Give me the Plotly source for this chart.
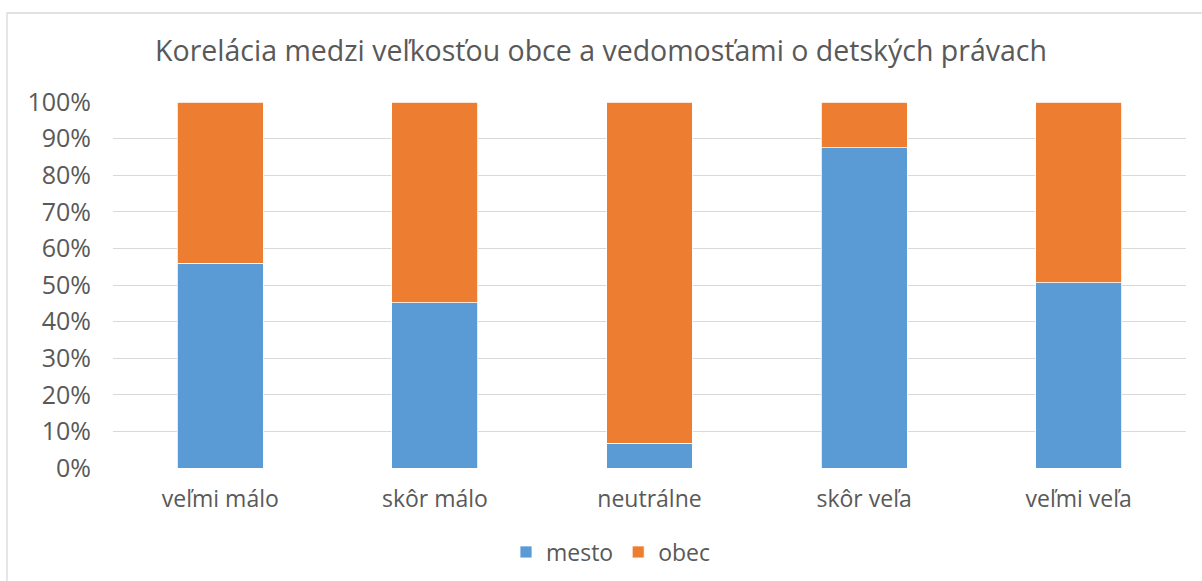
import plotly.graph_objects as go

categories = ["veľmi málo", "skôr málo", "neutrálne", "skôr veľa", "veľmi veľa"]
mesto = [56, 45.2, 6.7, 87.5, 50.6]
obec = [44, 54.8, 93.3, 12.5, 49.4]
tick_vals = [0, 10, 20, 30, 40, 50, 60, 70, 80, 90, 100]
tick_text = ["0%", "10%", "20%", "30%", "40%", "50%", "60%", "70%", "80%", "90%", "100%"]

W, H = 1202, 581
L, R, T, B = 113, 16, 102, 113
pw, ph = W - L - R, H - T - B

FONT = "Open Sans"
TXT = "#595959"

fig = go.Figure()
fig.add_trace(go.Bar(name="mesto", x=categories, y=mesto, marker=dict(color="#5B9BD5", line=dict(color="white", width=0.8))))
fig.add_trace(go.Bar(name="obec", x=categories, y=obec, marker=dict(color="#ED7D31", line=dict(color="white", width=0.8))))

def px_x(p):
    return (p - L) / pw

def px_y(p):
    return (H - B - p) / ph

fig.update_layout(
    barmode="stack",
    bargap=0.6,
    width=W, height=H,
    margin=dict(l=L, r=R, t=T, b=B, autoexpand=False),
    paper_bgcolor="white", plot_bgcolor="white",
    font=dict(family=FONT, color=TXT, size=23),
    title=dict(text="Korelácia medzi veľkosťou obce a vedomosťami o detských právach",
               x=0.5, xanchor="center", y=1 - 51 / H, yanchor="middle",
               font=dict(family=FONT, size=28.5, color=TXT)),
    xaxis=dict(showgrid=False, showline=False, ticks="", tickfont=dict(size=23, color=TXT),
               ticklabelstandoff=15, automargin=False),
    yaxis=dict(range=[0, 100], tickvals=tick_vals, ticktext=tick_text, showgrid=True,
               gridcolor="#D9D9D9", gridwidth=1.3, zeroline=False, showline=False,
               tickfont=dict(size=25, color=TXT), ticklabelstandoff=21, automargin=False),
    legend=dict(orientation="h", x=px_x(611), xanchor="center", y=px_y(552), yanchor="middle",
                font=dict(size=23, color=TXT), itemwidth=30, traceorder="normal"),
    shapes=[dict(type="rect", xref="paper", yref="paper",
                 x0=px_x(7), x1=px_x(1215), y0=px_y(600), y1=px_y(13),
                 line=dict(color="#D9D9D9", width=1.3), fillcolor="rgba(0,0,0,0)", layer="below")],
)

fig.write_html("out.html", config={"displayModeBar": False},
               post_script="document.body.style.margin='0';document.body.style.overflow='hidden';")
